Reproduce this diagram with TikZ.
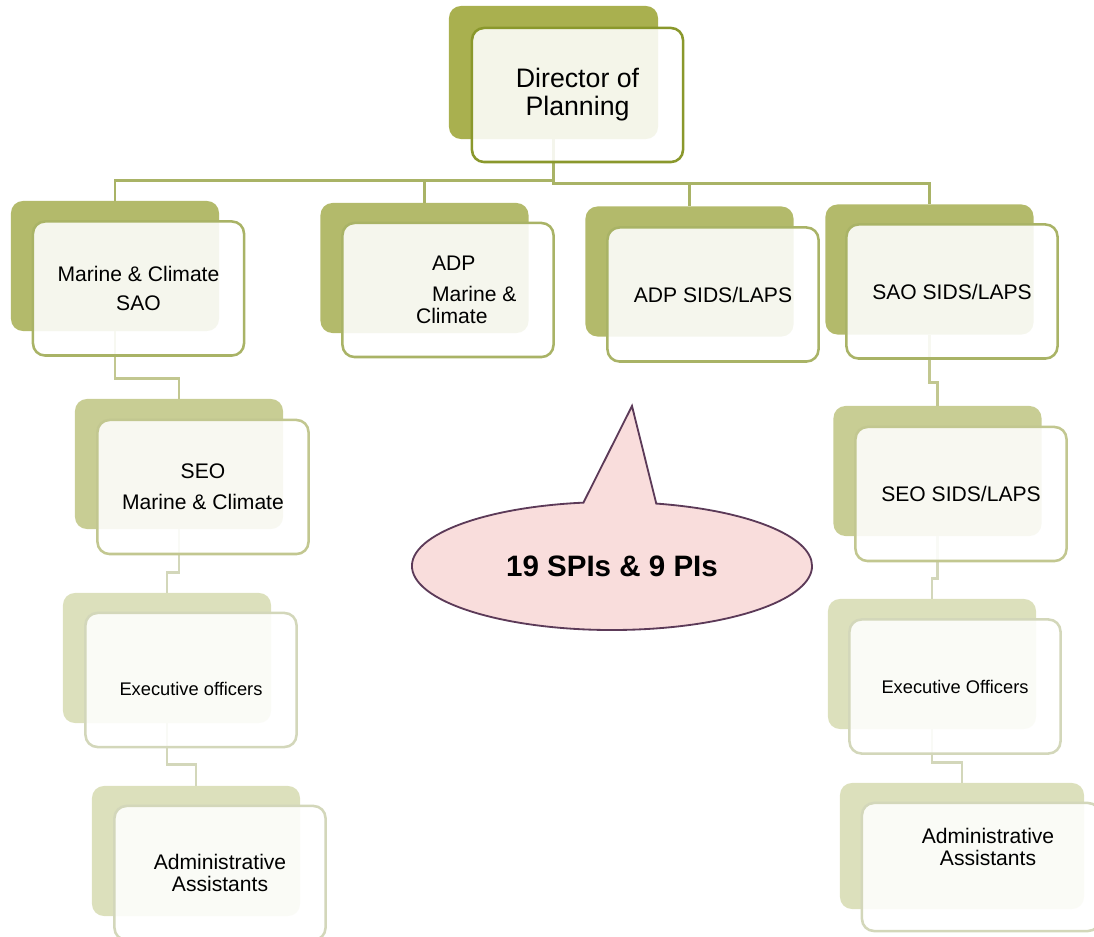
\documentclass[tikz,border=0pt]{standalone}
\usepackage{fontspec}
\setmainfont{Liberation Sans}
\usepackage{tikz}
\usetikzlibrary{shapes.callouts}
\definecolor{topBack}{HTML}{A9B04F}
\definecolor{topLine}{HTML}{8A982C}
\definecolor{firstBack}{HTML}{B3BA6B}
\definecolor{firstLine}{HTML}{A9B366}
\definecolor{secondBack}{HTML}{C8CD94}
\definecolor{secondLine}{HTML}{C2C790}
\definecolor{thirdBack}{HTML}{DCE0BC}
\definecolor{thirdLine}{HTML}{D3D7BA}
\definecolor{calloutFill}{HTML}{F9DDDC}
\definecolor{calloutLine}{HTML}{5C3A58}

\begin{document}
\begin{tikzpicture}[
  x=0.025cm, y=-0.025cm,
  every tile/.style={
    rectangle,
    rounded corners=0.3cm,
    inner sep=0pt,
  },
  back tile/.style={
    every tile,
    fill=#1,
    minimum width=5.2cm,
    minimum height=3.25cm,
  },
  front tile/.style={
    every tile,
    draw=#1,
    line width=1.8pt,
    fill=white,
    fill opacity=0.88,
    text opacity=1,
    minimum width=5.275cm,
    minimum height=3.35cm,
    align=center,
    font=\fontsize{15}{21}\selectfont,
  },
  tile text/.style={
    align=center,
    font=\fontsize{15}{16}\selectfont,
  },
  link/.style={
    draw=#1,
    line width=2pt,
  },
]
\useasboundingbox (0,0) rectangle (1094,937);

% back tiles
\node[back tile=topBack, minimum width=5.225cm, minimum height=3.325cm] (dirB) at (553.5,72.5) {};
\node[back tile=firstBack] (saoB) at (115,266) {};
\node[back tile=firstBack] (adpB) at (424.5,268) {};
\node[back tile=firstBack] (adpsB) at (689.5,271.5) {};
\node[back tile=firstBack] (ssB) at (929.5,269.5) {};
\node[back tile=secondBack] (seoB) at (179,464) {};
\node[back tile=secondBack] (seo2B) at (937.5,471) {};
\node[back tile=thirdBack] (exB) at (167,658) {};
\node[back tile=thirdBack] (ex2B) at (932,664) {};
\node[back tile=thirdBack] (adB) at (196,851) {};
\node[back tile=thirdBack, minimum width=6.1cm, minimum height=3.15cm] (ad2B) at (962,846) {};

% links
\draw[link=firstLine] (dirB.south) -- ++(0,41) -| (saoB.north);
\draw[link=firstLine] (dirB.south) -- ++(0,41) -| (adpB.north);
\draw[link=firstLine] (dirB.south) -- ++(0,44) -| (adpsB.north);
\draw[link=firstLine] (dirB.south) -- ++(0,44) -| (ssB.north);
\draw[link=secondLine] (saoB.south) -- ++(0,47) -| (seoB.north);
\draw[link=secondLine] (ssB.south) -- ++(0,48) -| (seo2B.north);
\draw[link=thirdLine] (seoB.south) -- ++(0,43) -| (exB.north);
\draw[link=thirdLine] (seo2B.south) -- ++(0,42) -| (ex2B.north);
\draw[link=thirdLine] (exB.south) -- ++(0,41) -| (adB.north);
\draw[link=thirdLine] (ex2B.south) -- ++(0,33) -| (ad2B.north);

% front tiles
\node[front tile=topLine, font=\fontsize{19}{20}\selectfont] (dir) at (577.5,95) {Director of\\Planning};
\node[front tile=firstLine] (sao) at (138.5,288.5) {Marine \& Climate\\SAO};
\node[front tile=firstLine] (adp) at (448,290) {};
\node[tile text, align=left] at ([xshift=13]adp.center) {\hspace*{0.4cm}ADP\\[6pt]\hspace*{0.4cm}Marine \&\\Climate};
\node[front tile=firstLine] (adps) at (713,294.5) {ADP SIDS/LAPS};
\node[front tile=firstLine] (ss) at (952,291.5) {SAO SIDS/LAPS};
\node[front tile=secondLine, font=\fontsize{15}{22}\selectfont] (seo) at (203,487) {SEO\\Marine \& Climate};
\node[front tile=secondLine] (seo2) at (961,494) {SEO SIDS/LAPS};
\node[front tile=thirdLine, font=\fontsize{13}{16}\selectfont] (ex) at (191,680) {\mbox{}\\[6pt]Executive officers};
\node[front tile=thirdLine, font=\fontsize{13}{16}\selectfont] (ex2) at (955,686.5) {Executive Officers};
\node[front tile=thirdLine, font=\fontsize{15}{16}\selectfont] (ad) at (220,873) {Administrative\\Assistants};
\node[front tile=thirdLine, minimum width=5.95cm, minimum height=3.2cm] (ad2) at (981,867) {};
\node[tile text] at ([shift={(7,-20)}]ad2.center) {Administrative\\Assistants};

% callout
\node[ellipse callout, draw=calloutLine, fill=calloutFill, line width=1.3pt,
  minimum width=10cm, minimum height=3.2cm, inner sep=0pt,
  callout absolute pointer={(632,406)}, callout pointer arc=21,
  font=\bfseries\fontsize{21}{26}\selectfont] (spi) at (612,566) {19 SPIs \& 9 PIs};
\end{tikzpicture}
\end{document}
